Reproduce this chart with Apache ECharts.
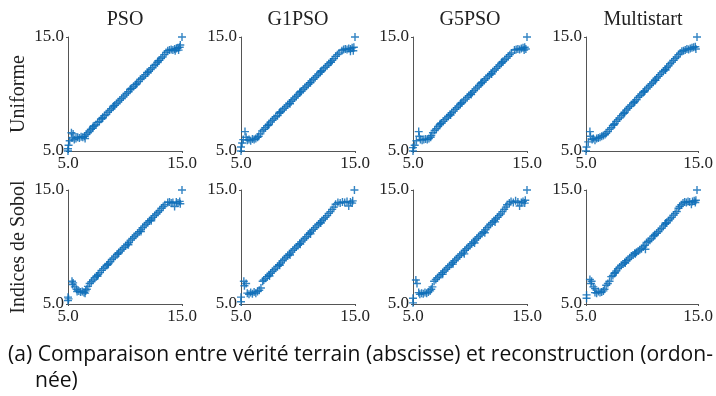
<!DOCTYPE html>
<html><head><meta charset="utf-8">
<script src="https://cdn.jsdelivr.net/npm/echarts@6/dist/echarts.min.js"></script>
<style>html,body{margin:0;padding:0;background:#fff}#c{width:716px;height:396px}</style>
</head><body><div id="c"></div>
<script>
const methods = ['PSO', 'G1PSO', 'G5PSO', 'Multistart'];
const rowLabels = ['Uniforme', 'Indices de Sobol'];
const tickValues = [5.0, 15.0];
const captionLines = ['(a) Comparaison entre vérité terrain (abscisse) et reconstruction (ordon-', 'née)'];

const uniPSO = [[5.0,5.0],[5.0,5.2],[5.05,5.5],[5.15,5.9],[5.3,6.6],[5.45,6.5],[5.35,6.15],[5.55,6.0],[5.7,6.1],[5.85,6.2],[6.0,6.15],[6.15,6.25],[6.3,6.2],[6.45,6.3],[6.6,6.45],[6.5,6.1],
[6.75,6.6],[6.9,6.75],[7.0,6.9],[7.15,7.0],[7.3,7.2],[7.45,7.3],[7.6,7.5],[7.75,7.6],[7.9,7.8],[8.05,7.95],[8.2,8.1],[8.35,8.2],[8.5,8.4],[8.65,8.55],[8.8,8.7],[8.95,8.85],[9.1,9.0],[9.25,9.15],[9.4,9.3],[9.55,9.45],[9.7,9.6],[9.85,9.75],[10.0,9.9],[10.15,10.05],[10.3,10.2],[10.45,10.4],[10.6,10.5],[10.75,10.65],[10.9,10.8],[11.05,10.95],[11.2,11.1],[11.35,11.3],[11.5,11.4],[11.65,11.55],[11.8,11.7],[11.95,11.9],[12.1,12.0],[12.25,12.15],[12.4,12.3],[12.55,12.5],[12.7,12.6],[12.85,12.75],[13.0,12.95],[13.15,13.1],[13.3,13.25],[13.45,13.45],[13.6,13.65],
[7.2,7.15],[8.0,7.85],[9.0,8.95],[10.5,10.45],[11.0,10.85],[12.0,11.85],[12.9,12.9],
[13.75,13.8],[13.9,13.85],[14.05,13.9],[14.2,13.85],[14.35,13.95],[14.5,14.0],[14.65,14.05],[14.8,14.1],[14.7,13.85],[14.85,14.3],[14.4,13.8],[15.0,15.0]];

const uniG1 = [[5.0,5.0],[5.0,5.35],[5.1,5.7],[5.2,6.0],[5.35,6.7],[5.45,6.2],[5.55,5.95],[5.7,6.0],[5.85,5.9],[6.0,6.05],[6.15,6.0],[6.3,6.1],[6.45,6.2],[6.55,6.3],[6.7,6.5],
[6.85,6.75],[7.0,6.9],[7.15,7.05],[7.3,7.2],[7.45,7.35],[7.6,7.55],[7.75,7.7],[7.9,7.85],[8.05,8.0],[8.2,8.1],[8.35,8.3],[8.5,8.45],[8.65,8.6],[8.8,8.75],[8.95,8.9],[9.1,9.05],[9.25,9.2],[9.4,9.35],[9.55,9.5],[9.7,9.65],[9.85,9.8],[10.0,9.95],[10.15,10.1],[10.3,10.25],[10.45,10.4],[10.6,10.55],[10.75,10.7],[10.9,10.85],[11.05,11.0],[11.2,11.15],[11.35,11.3],[11.5,11.45],[11.65,11.6],[11.8,11.75],[11.95,11.9],[12.1,12.05],[12.25,12.2],[12.4,12.35],[12.55,12.5],[12.7,12.65],[12.85,12.8],[13.0,12.95],[13.15,13.1],[13.3,13.3],[13.45,13.45],[13.6,13.6],
[7.4,7.25],[8.4,8.4],[9.3,9.15],[10.2,10.2],[11.1,11.0],[12.0,12.0],[12.9,12.8],
[13.85,13.8],[14.0,13.9],[14.15,13.95],[14.3,13.9],[14.45,14.0],[14.6,13.95],[14.75,14.05],[14.9,14.1],[14.85,13.8],[14.6,13.75],[15.0,15.0]];

const uniG5 = [[5.0,5.0],[5.0,5.3],[5.15,5.5],[5.3,5.9],[5.5,6.7],[5.55,6.3],[5.65,6.0],[5.8,5.95],[5.95,6.0],[6.1,6.05],[6.25,6.0],[6.4,6.1],[6.55,6.2],[6.6,6.35],[6.75,6.6],
[6.9,6.8],[7.05,6.95],[7.2,7.15],[7.35,7.3],[7.5,7.45],[7.65,7.6],[7.8,7.75],[7.95,7.9],[8.1,8.05],[8.25,8.2],[8.4,8.35],[8.55,8.5],[8.7,8.65],[8.85,8.8],[9.0,8.95],[9.15,9.1],[9.3,9.25],[9.45,9.4],[9.6,9.55],[9.75,9.7],[9.9,9.85],[10.05,10.0],[10.2,10.15],[10.35,10.3],[10.5,10.45],[10.65,10.6],[10.8,10.75],[10.95,10.9],[11.1,11.05],[11.25,11.2],[11.4,11.35],[11.55,11.5],[11.7,11.65],[11.85,11.8],[12.0,11.95],[12.15,12.1],[12.3,12.25],[12.45,12.4],[12.6,12.55],[12.75,12.7],[12.9,12.85],[13.05,13.0],[13.2,13.15],[13.35,13.3],[13.5,13.45],[13.65,13.6],
[7.4,7.4],[8.3,8.15],[9.2,9.2],[10.1,9.95],[11.0,11.0],[11.9,11.75],[12.8,12.8],
[13.9,13.85],[14.05,13.9],[14.2,13.95],[14.35,13.9],[14.5,14.0],[14.65,14.05],[14.8,14.1],[14.9,13.95],[14.75,13.85],[15.0,15.0]];

const uniMS = [[5.0,5.0],[5.05,5.35],[5.2,5.8],[5.35,6.7],[5.4,6.3],[5.55,6.0],[5.65,6.1],[5.8,5.95],[5.95,6.1],[6.1,6.15],[6.25,6.2],[6.4,6.3],[6.55,6.35],[6.7,6.45],
[6.8,6.55],[6.95,6.7],[7.1,6.9],[7.25,7.05],[7.4,7.25],[7.55,7.4],[7.7,7.6],[7.85,7.75],[8.0,7.9],[8.15,8.1],[8.3,8.25],[8.45,8.4],[8.6,8.6],[8.75,8.75],[8.9,8.9],[9.05,9.05],[9.2,9.2],[9.35,9.35],[9.5,9.5],[9.65,9.7],[9.8,9.85],[9.95,10.0],[10.1,10.15],[10.25,10.3],[10.4,10.45],[10.55,10.6],[10.7,10.75],[10.85,10.9],[11.0,11.05],[11.15,11.2],[11.3,11.4],[11.45,11.55],[11.6,11.7],[11.75,11.85],[11.9,12.0],[12.05,12.15],[12.2,12.3],[12.35,12.45],[12.5,12.65],[12.65,12.8],[12.8,12.95],[12.95,13.1],[13.1,13.25],[13.25,13.45],[13.4,13.6],
[7.5,7.3],[8.4,8.3],[9.3,9.25],[10.2,10.2],[11.2,11.2],[12.1,12.1],
[13.55,13.75],[13.7,13.8],[13.85,13.85],[14.0,13.95],[14.15,13.9],[14.3,14.0],[14.45,14.05],[14.6,14.1],[14.75,14.15],[14.8,13.95],[14.9,15.0]];

const sobPSO = [[5.0,5.3],[5.0,5.6],[5.05,5.45],[5.35,7.0],[5.45,6.85],[5.4,6.7],[5.6,6.5],[5.75,6.3],[5.8,6.1],[5.95,6.15],[6.1,6.05],[6.25,6.1],[6.4,6.0],[6.55,6.15],[6.65,6.3],[6.5,5.95],[6.75,6.55],
[6.9,6.8],[7.05,6.95],[7.2,7.1],[7.35,7.3],[7.5,7.45],[7.65,7.6],[7.8,7.75],[7.95,7.95],[8.1,8.1],[8.25,8.25],[8.4,8.4],[8.55,8.55],[8.7,8.7],[8.85,8.9],[9.0,9.05],[9.15,9.2],[9.3,9.35],[9.45,9.5],[9.6,9.65],[9.75,9.8],[9.9,9.95],[10.05,10.1],[10.2,10.25],[10.35,10.4],[10.5,10.6],[10.65,10.75],[10.8,10.9],[10.95,11.05],[11.1,11.2],[11.25,11.35],[11.4,11.5],[11.55,11.7],[11.7,11.85],[11.85,12.0],[12.0,12.15],[12.15,12.3],[12.3,12.45],[12.45,12.6],[12.6,12.75],[12.75,12.9],[12.9,13.05],[13.05,13.2],[13.2,13.4],[13.35,13.55],[13.5,13.7],
[7.6,7.45],[8.5,8.45],[9.4,9.4],[10.3,10.2],[11.4,11.35],[12.3,12.3],
[13.75,13.9],[13.9,13.95],[14.05,13.85],[14.2,13.9],[14.35,13.55],[14.5,13.95],[14.65,13.85],[14.8,14.0],[14.85,13.8],[15.0,15.0]];

const sobG1 = [[5.0,5.2],[5.0,5.6],[5.25,7.0],[5.3,6.6],[5.45,6.8],[5.55,5.95],[5.7,5.85],[5.85,6.0],[6.0,5.9],[6.15,6.05],[6.3,5.95],[6.45,6.1],[6.6,6.2],[6.75,6.4],[6.9,7.0],
[7.0,7.1],[7.15,7.25],[7.3,7.4],[7.45,7.55],[7.6,7.7],[7.75,7.85],[7.9,8.0],[8.05,8.15],[8.2,8.3],[8.35,8.45],[8.5,8.6],[8.65,8.8],[8.8,8.95],[8.95,9.1],[9.1,9.25],[9.25,9.4],[9.4,9.55],[9.55,9.7],[9.7,9.85],[9.85,10.0],[10.0,10.15],[10.15,10.3],[10.3,10.45],[10.45,10.6],[10.6,10.75],[10.75,10.9],[10.9,11.1],[11.05,11.25],[11.2,11.4],[11.35,11.55],[11.5,11.7],[11.65,11.85],[11.8,12.0],[11.95,12.15],[12.1,12.3],[12.25,12.45],[12.4,12.6],[12.55,12.75],[12.7,12.95],[12.85,13.1],[13.0,13.3],[13.15,13.5],
[7.5,7.45],[8.4,8.4],[9.3,9.3],[10.2,10.25],[11.1,11.15],[12.0,12.1],
[13.3,13.75],[13.5,13.9],[13.7,13.85],[13.9,13.95],[14.1,13.9],[14.3,14.0],[14.45,13.6],[14.6,13.95],[14.75,13.85],[14.8,14.05],[14.95,15.0]];

const sobG5 = [[5.0,5.1],[5.0,5.5],[5.25,7.1],[5.35,6.8],[5.5,6.0],[5.6,5.85],[5.75,5.95],[5.9,5.9],[6.05,6.0],[6.2,5.95],[6.35,6.05],[6.5,6.15],[6.6,6.3],[6.7,6.5],[6.85,7.0],
[7.0,7.15],[7.15,7.3],[7.3,7.45],[7.45,7.6],[7.6,7.75],[7.75,7.9],[7.9,8.05],[8.05,8.2],[8.2,8.35],[8.35,8.5],[8.5,8.65],[8.65,8.8],[8.8,8.95],[8.95,9.1],[9.1,9.25],[9.25,9.4],[9.4,9.55],[9.55,9.7],[9.7,9.85],[9.85,10.0],[10.0,10.15],[10.15,10.3],[10.3,10.45],[10.45,10.6],[10.6,10.75],[10.75,10.9],[10.9,11.05],[11.05,11.2],[11.2,11.35],[11.35,11.5],[11.5,11.7],[11.65,11.85],[11.8,12.0],[11.95,12.15],[12.1,12.3],[12.25,12.45],[12.4,12.6],[12.55,12.75],[12.7,12.9],[12.85,13.1],[13.0,13.3],[13.15,13.5],
[7.6,7.6],[8.5,8.5],[9.5,9.4],[10.4,10.35],[11.3,11.25],[12.2,12.2],
[13.25,13.7],[13.45,13.85],[13.6,14.0],[13.8,13.9],[14.0,14.05],[14.2,13.95],[14.35,13.6],[14.5,13.9],[14.65,14.0],[14.8,13.85],[14.85,14.1],[15.0,15.0]];

const sobMS = [[5.05,5.5],[5.05,5.8],[5.35,7.15],[5.45,6.8],[5.5,7.0],[5.65,6.5],[5.8,6.35],[5.8,6.0],[5.95,5.95],[6.1,6.1],[6.25,6.0],[6.4,6.05],[6.55,6.15],[6.65,6.3],
[6.8,6.65],[6.95,6.8],[7.1,7.0],[7.25,7.4],[7.4,7.5],[7.55,7.7],[7.7,7.9],[7.85,8.1],[8.0,8.25],[8.15,8.4],[8.3,8.5],[8.45,8.65],[8.6,8.8],[8.75,8.9],[8.9,9.05],[9.05,9.2],[9.2,9.3],[9.35,9.45],[9.5,9.55],[9.65,9.65],[9.8,9.75],[9.95,9.85],[10.1,10.0],[10.3,9.8],[10.25,10.15],[10.4,10.4],[10.55,10.5],[10.7,10.6],[10.85,10.75],[11.0,10.95],[11.15,11.1],[11.3,11.2],[11.45,11.35],[11.6,11.5],[11.75,11.65],[11.9,11.85],[12.05,12.0],[12.2,12.1],[12.35,12.3],[12.5,12.45],[12.65,12.6],[12.8,12.8],[12.95,12.95],[13.1,13.1],[13.25,13.4],[13.35,13.55],
[7.6,7.75],[8.5,8.6],[9.4,9.4],[11.1,11.0],[12.1,12.1],
[13.5,13.7],[13.65,13.85],[13.8,13.95],[13.95,13.9],[14.1,14.0],[14.25,13.95],[14.4,13.75],[14.5,14.0],[14.65,14.05],[14.8,14.1],[14.75,13.9],[14.9,15.0]];

const panelData = [uniPSO, uniG1, uniG5, uniMS, sobPSO, sobG1, sobG5, sobMS];

const colLeft = [68, 241, 413, 586];
const rowTop = [37, 190];
const size = 114;
const serif = '"Liberation Serif", "DejaVu Serif", serif';
const plus = 'path://M3.3,0h1.4v3.3h3.3v1.4h-3.3v3.3h-1.4v-3.3h-3.3v-1.4h3.3z';

const grids = [], xAxes = [], yAxes = [], series = [];
panelData.forEach((d, i) => {
  const r = Math.floor(i / 4), c = i % 4;
  grids.push({left: colLeft[c], top: rowTop[r], width: size, height: size});
  const common = {
    gridIndex: i, type: 'value', min: tickValues[0], max: tickValues[1], interval: tickValues[1] - tickValues[0],
    splitLine: {show: false},
    axisTick: {show: true, length: 2, lineStyle: {color: '#555'}},
    axisLine: {show: true, lineStyle: {color: '#555', width: 1}},
    axisLabel: {show: true, showMinLabel: true, showMaxLabel: true, fontFamily: serif, fontSize: 17, color: '#222', margin: 4, formatter: v => v.toFixed(1)}
  };
  xAxes.push(Object.assign({}, common));
  yAxes.push(Object.assign({}, common));
  series.push({
    type: 'scatter', xAxisIndex: i, yAxisIndex: i, data: d,
    symbol: plus, symbolSize: 8, silent: true,
    itemStyle: {color: '#0f6fb8', opacity: 0.85}
  });
});

const graphics = [];
methods.forEach((m, c) => {
  graphics.push({type: 'text', x: colLeft[c] + size / 2, y: 20, style: {text: m, textAlign: 'center', textVerticalAlign: 'middle', font: '20px ' + serif, fill: '#222'}});
});
rowLabels.forEach((t, r) => {
  graphics.push({type: 'text', x: 19, y: rowTop[r] + size / 2, rotation: Math.PI / 2, style: {text: t, textAlign: 'center', textVerticalAlign: 'middle', font: '20px ' + serif, fill: '#222'}});
});
const capFont = '22px "Open Sans", "Noto Sans", sans-serif';
const ctx = document.createElement('canvas').getContext('2d');
ctx.font = capFont;
const w1 = ctx.measureText(captionLines[0]).width;
const sx = 705 / w1;
graphics.push({type: 'text', x: 8, y: 355, scaleX: sx, style: {text: captionLines[0], textAlign: 'left', textVerticalAlign: 'middle', font: capFont, fill: '#111'}});
graphics.push({type: 'text', x: 35, y: 381, scaleX: sx, style: {text: captionLines[1], textAlign: 'left', textVerticalAlign: 'middle', font: capFont, fill: '#111'}});

const chart = echarts.init(document.getElementById('c'), null, {renderer: 'canvas'});
chart.setOption({animation: false, grid: grids, xAxis: xAxes, yAxis: yAxes, series: series, graphic: graphics});
</script></body></html>
